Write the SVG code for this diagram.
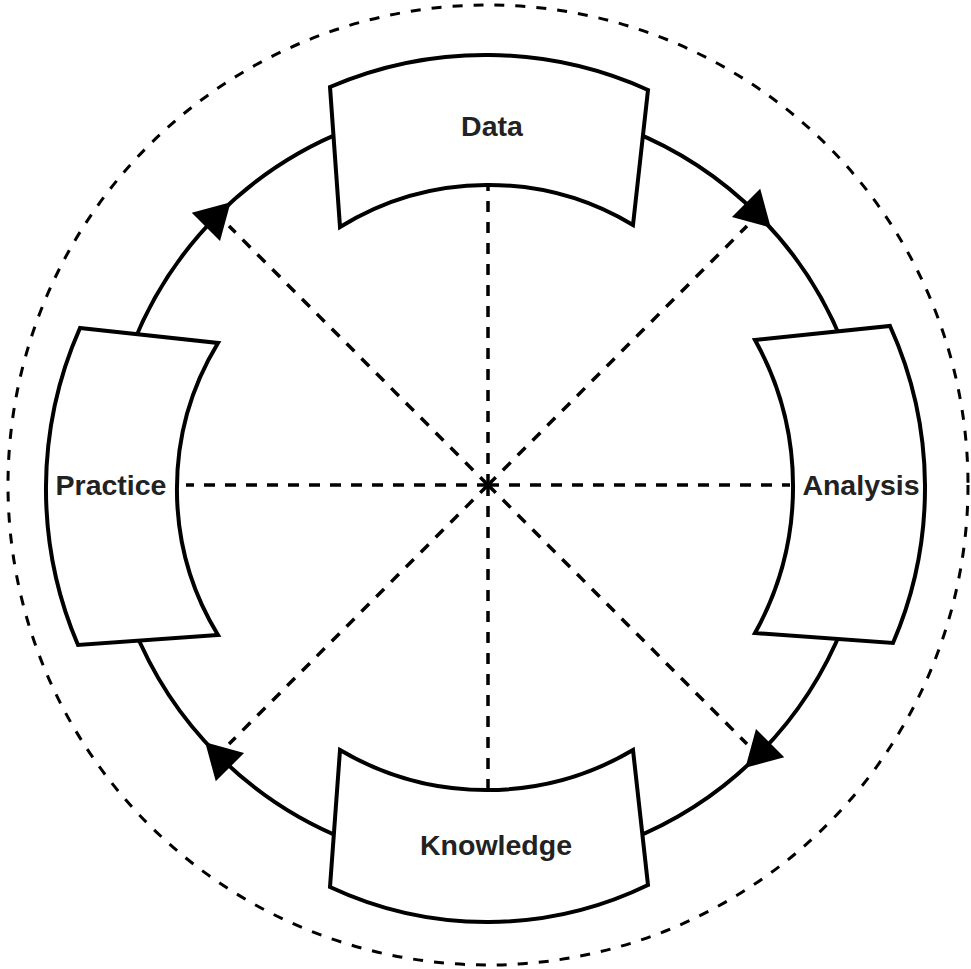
<svg xmlns="http://www.w3.org/2000/svg" width="971" height="969" viewBox="0 0 971 969">
<style>
.box{fill:#fff;stroke:#000;stroke-width:4;stroke-linejoin:miter}
.lbl{font-family:"Liberation Sans",Arial,sans-serif;font-weight:bold;font-size:28.5px;fill:#222;text-anchor:middle}
.dash{stroke:#000;stroke-width:3.5;stroke-dasharray:11 10;fill:none}
.ring{stroke:#000;stroke-width:4;fill:none}
.outer{stroke:#000;stroke-width:3;stroke-dasharray:10 11;fill:none}
.arr{fill:#000}
</style>
<rect width="971" height="969" fill="#fff"/>
<circle class="outer" cx="488" cy="485" r="480"/>
<g id="connectors">
<circle class="ring" cx="488" cy="485" r="382"/>
<line class="dash" x1="488" y1="485" x2="488" y2="187"/>
<line class="dash" x1="488" y1="485" x2="488" y2="790"/>
<line class="dash" x1="488" y1="485" x2="186" y2="485"/>
<line class="dash" x1="488" y1="485" x2="790" y2="485"/>
<line class="dash" x1="488" y1="485" x2="229" y2="226"/>
<line class="dash" x1="488" y1="485" x2="747" y2="226"/>
<line class="dash" x1="488" y1="485" x2="747" y2="744"/>
<line class="dash" x1="488" y1="485" x2="229" y2="744"/>
<polygon class="arr" points="18,0 -17,-20 -17,20" transform="translate(217.9,214.9) rotate(-45)"/>
<polygon class="arr" points="18,0 -17,-20 -17,20" transform="translate(758.1,214.9) rotate(45)"/>
<polygon class="arr" points="18,0 -17,-20 -17,20" transform="translate(758.1,755.1) rotate(135)"/>
<polygon class="arr" points="18,0 -17,-20 -17,20" transform="translate(217.9,755.1) rotate(225)"/>
</g>
<g id="data">
<path class="box" d="M330,87 A394,394 0 0 1 648,90 L633,225 A282,282 0 0 0 340,227 Z"/>
<text class="lbl" x="492" y="136">Data</text>
</g>
<g id="analysis">
<path class="box" d="M755,340 L890,326 A392,392 0 0 1 893,643 L755,633 A301,301 0 0 0 755,340 Z"/>
<text class="lbl" x="861" y="495">Analysis</text>
</g>
<g id="knowledge">
<path class="box" d="M340,750 A288,288 0 0 0 633,750 L648,885 A369,369 0 0 1 330,887 Z"/>
<text class="lbl" x="496" y="855">Knowledge</text>
</g>
<g id="practice">
<path class="box" d="M80,328 L218,343 A280,280 0 0 0 218,635 L78,645 A397,397 0 0 1 80,328 Z"/>
<text class="lbl" x="111" y="495">Practice</text>
</g>
</svg>
